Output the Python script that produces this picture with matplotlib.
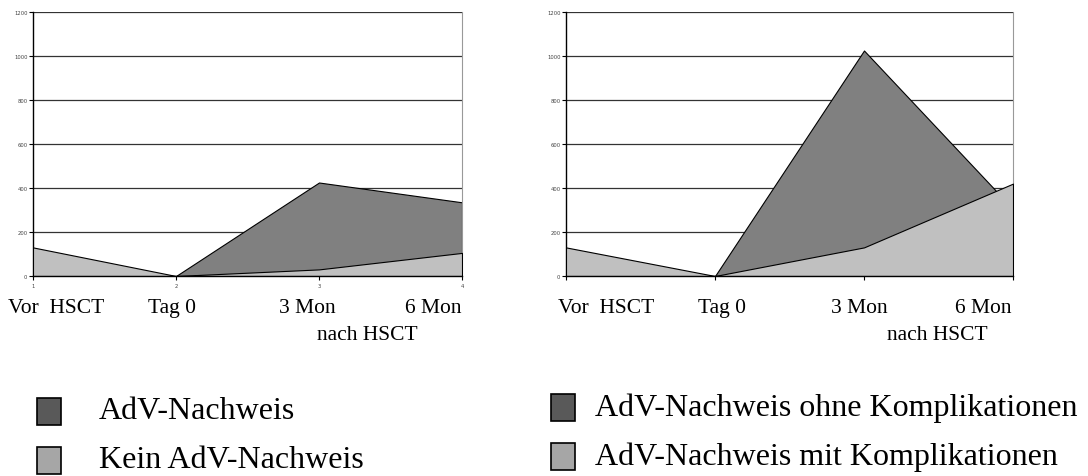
import matplotlib.pyplot as plt
from matplotlib.patches import Rectangle
from matplotlib.transforms import blended_transform_factory

# time points (Excel category index) and series values
x = [1, 2, 3, 4]
yticks = [0, 200, 400, 600, 800, 1000, 1200]

left_adv = [0, 0, 425, 335]        # AdV-Nachweis
left_kein = [130, 0, 30, 105]      # Kein AdV-Nachweis
right_ohne = [0, 0, 1025, 305]     # AdV-Nachweis ohne Komplikationen
right_mit = [130, 0, 130, 420]     # AdV-Nachweis mit Komplikationen

cat_labels = ['Vor  HSCT', 'Tag 0', '3 Mon', '6 Mon', 'nach HSCT']
left_label_x = [1.16, 1.97, 2.92, 3.80, 3.34]
right_label_x = [1.27, 2.05, 2.97, 3.80, 3.49]
label_row = [0, 0, 0, 0, 1]

left_legend = ['AdV-Nachweis', 'Kein AdV-Nachweis']
right_legend = ['AdV-Nachweis ohne Komplikationen', 'AdV-Nachweis mit Komplikationen']

dark_fill = '#808080'
light_fill = '#c0c0c0'
legend_cols = ['#595959', '#a6a6a6']

W, H = 1088, 477
fig = plt.figure(figsize=(W / 100, H / 100), dpi=100)
serif = 'Liberation Serif'


def px_axes(x0, y0, x1, y1):
    return fig.add_axes([x0 / W, 1 - y1 / H, (x1 - x0) / W, (y1 - y0) / H])


def area_panel(ax, back, front, show_xlabels, label_x):
    ax.fill_between(x, back, color=dark_fill, edgecolor='black', lw=0.8, zorder=2)
    ax.fill_between(x, front, color=light_fill, edgecolor='black', lw=0.8, zorder=3)
    ax.set_xlim(1, 4)
    ax.set_ylim(0, 1200)
    ax.set_yticks(yticks)
    ax.set_xticks(x)
    for v in yticks[1:]:
        ax.axhline(v, color='#333333', lw=0.9, zorder=1)
    ax.spines['top'].set_visible(False)
    ax.spines['right'].set_color('#999999')
    ax.spines['right'].set_linewidth(0.8)
    ax.spines['left'].set_linewidth(1.0)
    ax.spines['bottom'].set_linewidth(1.0)
    ax.spines['bottom'].set_zorder(4)
    ax.tick_params(axis='y', direction='out', length=3, width=0.8,
                   labelsize=3.8, labelcolor='#444444', pad=1)
    ax.tick_params(axis='x', direction='out', length=3, width=0.8,
                   labelsize=3.8, labelcolor='#444444', pad=2,
                   labelbottom=show_xlabels)
    ax.set_facecolor('white')
    tr = blended_transform_factory(ax.transData, fig.transFigure)
    for lab, lx, row in zip(cat_labels, label_x, label_row):
        ypix = 309 + row * 26
        ax.text(lx, 1 - ypix / H, lab, transform=tr, ha='center', va='center',
                fontsize=15.5, family=serif, clip_on=False)


ax1 = px_axes(33, 13, 462, 277)
area_panel(ax1, left_adv, left_kein, True, left_label_x)

ax2 = px_axes(566, 13, 1013, 277)
area_panel(ax2, right_ohne, right_mit, False, right_label_x)


def legend_block(sq_x, txt_x, top, labels):
    for i, (lab, col) in enumerate(zip(labels, legend_cols)):
        y0 = top + i * 49
        fig.add_artist(Rectangle((sq_x / W, 1 - (y0 + 27) / H), 24 / W, 27 / H,
                                 transform=fig.transFigure, facecolor=col,
                                 edgecolor='black', lw=1.2))
        fig.text(txt_x / W, 1 - (y0 + 13) / H, lab, ha='left', va='center',
                 fontsize=23, family=serif)


legend_block(37, 99, 399, left_legend)
legend_block(551, 595, 395, right_legend)

fig.savefig('out.png', dpi=100)
